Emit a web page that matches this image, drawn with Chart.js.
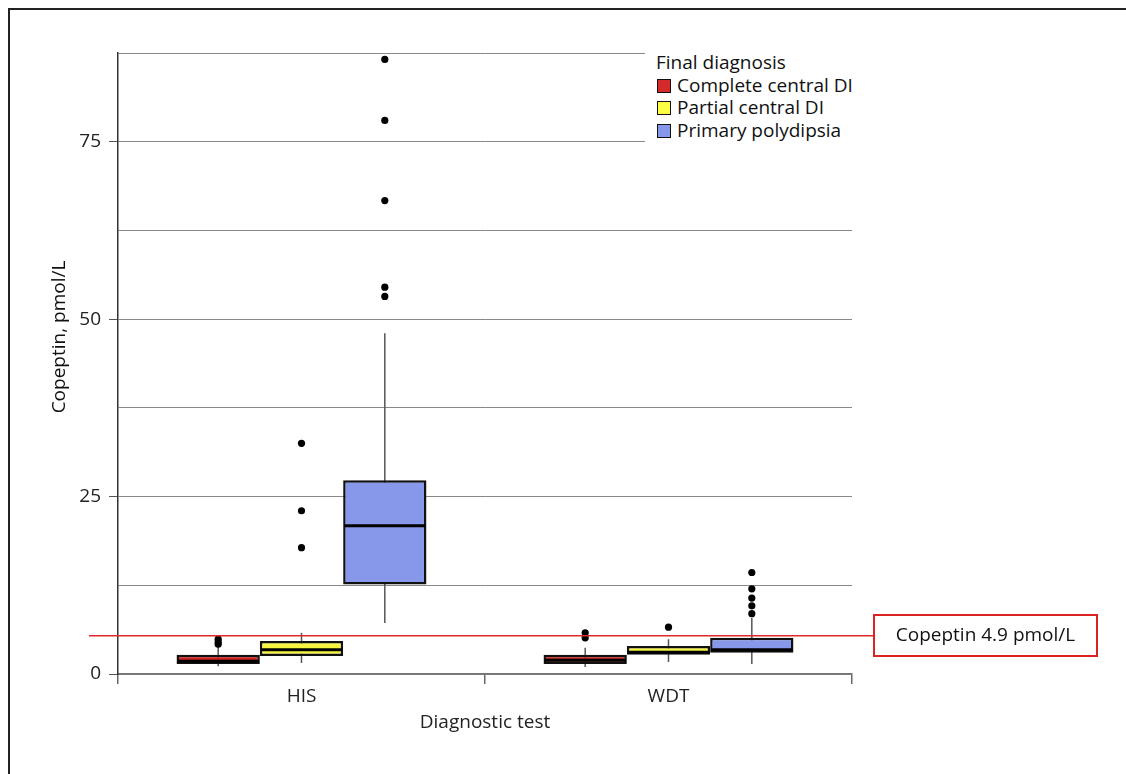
<!DOCTYPE html>
<html>
<head>
<meta charset="utf-8">
<script src="https://cdn.jsdelivr.net/npm/chart.js@4.4.1/dist/chart.umd.min.js"></script>
<style>
  body { margin: 0; background: #fff; }
  #wrap { position: relative; width: 1126px; height: 774px; }
  #legend {
    position: absolute; left: 645px; top: 46px; width: 208px; height: 100px;
    background: #fff; font: 19px "Open Sans", sans-serif; color: #111;
    padding-top: 5px; box-sizing: border-box;
  }
  #legend div { height: 22.5px; line-height: 22.5px; padding-left: 12px; white-space: nowrap; }
  #legend span.sw {
    display: inline-block; width: 12px; height: 12px; border: 1.5px solid #111;
    vertical-align: -1px; margin-right: 6px;
  }
</style>
</head>
<body>
<div id="wrap">
  <canvas id="chart" width="1126" height="774"></canvas>
  <div id="legend"></div>
</div>
<script>
const categories = ['HIS', 'WDT'];
const seriesNames = ['Complete central DI', 'Partial central DI', 'Primary polydipsia'];
const boxColors = ['#cc2222', '#f6f640', '#8797ea'];
const swatchColors = ['#d42a2a', '#ffff44', '#8797ea'];

// each row is one series, columns follow categories
const whiskerLow = [[1.1, 1.0], [1.55, 1.7], [7.2, 1.4]];
const quartile1 = [[1.4, 1.4], [2.55, 2.7], [12.6, 3.0]];
const medians = [[1.8, 1.95], [3.4, 3.05], [20.9, 3.4]];
const quartile3 = [[2.7, 2.7], [4.65, 3.95], [27.3, 5.1]];
const whiskerHigh = [[3.9, 3.7], [5.8, 4.9], [48.0, 7.9]];
const outliers = [
  [[4.2, 4.5, 4.9], [5.1, 5.8]],
  [[17.8, 23.0, 32.5], [6.6]],
  [[53.2, 54.5, 66.7, 78.0, 86.6], [8.5, 9.6, 10.7, 12.0, 14.3]]
];

const yLabelTicks = [0, 25, 50, 75];
const cutoffValue = 5.4;
const cutoffText = 'Copeptin 4.9 pmol/L';

const FONT = '"Open Sans", sans-serif';
const FS = 19;

const boxPlugin = {
  id: 'boxParts',
  beforeDraw(chart) {
    const ctx = chart.ctx;
    ctx.save();
    ctx.strokeStyle = '#222';
    ctx.lineWidth = 2;
    ctx.beginPath();
    ctx.moveTo(9, 774);
    ctx.lineTo(9, 9);
    ctx.lineTo(1126, 9);
    ctx.stroke();
    ctx.restore();
  },
  beforeDatasetsDraw(chart) {
    const ctx = chart.ctx;
    const y = chart.scales.y;
    ctx.save();
    ctx.strokeStyle = '#555';
    ctx.lineWidth = 1.5;
    chart.data.datasets.forEach((ds, i) => {
      chart.getDatasetMeta(i).data.forEach((bar, j) => {
        ctx.beginPath();
        ctx.moveTo(bar.x, y.getPixelForValue(whiskerLow[i][j]));
        ctx.lineTo(bar.x, y.getPixelForValue(whiskerHigh[i][j]));
        ctx.stroke();
      });
    });
    ctx.restore();
  },
  afterDatasetsDraw(chart) {
    const ctx = chart.ctx;
    const y = chart.scales.y;
    ctx.save();
    chart.data.datasets.forEach((ds, i) => {
      chart.getDatasetMeta(i).data.forEach((bar, j) => {
        const py = y.getPixelForValue(medians[i][j]);
        ctx.strokeStyle = '#000';
        ctx.lineWidth = 3;
        ctx.beginPath();
        ctx.moveTo(bar.x - bar.width / 2 + 1, py);
        ctx.lineTo(bar.x + bar.width / 2 - 1, py);
        ctx.stroke();
        ctx.fillStyle = '#000';
        outliers[i][j].forEach(v => {
          ctx.beginPath();
          ctx.arc(bar.x, y.getPixelForValue(v), 3.6, 0, Math.PI * 2);
          ctx.fill();
        });
      });
    });

    // cutoff line and its label
    const cy = y.getPixelForValue(cutoffValue);
    ctx.strokeStyle = '#e02828';
    ctx.lineWidth = 1.5;
    ctx.beginPath();
    ctx.moveTo(89, cy);
    ctx.lineTo(873, cy);
    ctx.stroke();
    ctx.lineWidth = 2;
    ctx.strokeStyle = '#dd2222';
    ctx.fillStyle = '#fff';
    ctx.fillRect(874, 615, 223, 41);
    ctx.strokeRect(874, 615, 223, 41);
    ctx.fillStyle = '#111';
    ctx.font = FS + 'px ' + FONT;
    ctx.textAlign = 'center';
    ctx.textBaseline = 'middle';
    ctx.fillText(cutoffText, 985.5, 636);

    // y axis title
    ctx.translate(60, 337);
    ctx.rotate(-Math.PI / 2);
    ctx.fillText('Copeptin, pmol/L', 0, 0);
    ctx.restore();
  }
};

new Chart(document.getElementById('chart'), {
  type: 'bar',
  data: {
    labels: categories,
    datasets: seriesNames.map((name, i) => ({
      label: name,
      data: categories.map((c, j) => [quartile1[i][j], quartile3[i][j]]),
      backgroundColor: boxColors[i],
      borderColor: '#111',
      borderWidth: 2.5,
      borderSkipped: false,
      categoryPercentage: 0.681,
      barPercentage: 1.0
    }))
  },
  options: {
    responsive: false,
    animation: false,
    layout: { padding: { top: 53, right: 274, bottom: 0, left: 0 } },
    plugins: { legend: { display: false }, tooltip: { enabled: false } },
    scales: {
      x: {
        grid: { offset: true, drawOnChartArea: false, tickLength: 10, color: '#666', lineWidth: 1.5 },
        border: { color: '#777', width: 2 },
        ticks: { color: '#222', font: { family: FONT, size: FS }, padding: 1 },
        title: { display: true, text: 'Diagnostic test', color: '#222', font: { family: FONT, size: FS }, padding: { top: 0, bottom: 40 } },
        afterFit(scale) { scale.height = 100; }
      },
      y: {
        min: 0,
        max: 87.5,
        grid: {
          color: '#888',
          lineWidth: 1,
          tickLength: 9,
          tickColor: c => yLabelTicks.includes(c.tick.value) ? '#555' : 'rgba(0,0,0,0)'
        },
        border: { color: '#333', width: 1.5 },
        ticks: {
          stepSize: 12.5,
          color: '#222',
          padding: 8,
          font: { family: FONT, size: FS },
          callback: v => yLabelTicks.includes(v) ? v : ''
        },
        afterFit(scale) { scale.width = 118; }
      }
    }
  },
  plugins: [boxPlugin]
});

const legend = document.getElementById('legend');
let html = '<div style="padding-left:11px">Final diagnosis</div>';
seriesNames.forEach((name, i) => {
  html += '<div><span class="sw" style="background:' + swatchColors[i] + '"></span>' + name + '</div>';
});
legend.innerHTML = html;
</script>
</body>
</html>
